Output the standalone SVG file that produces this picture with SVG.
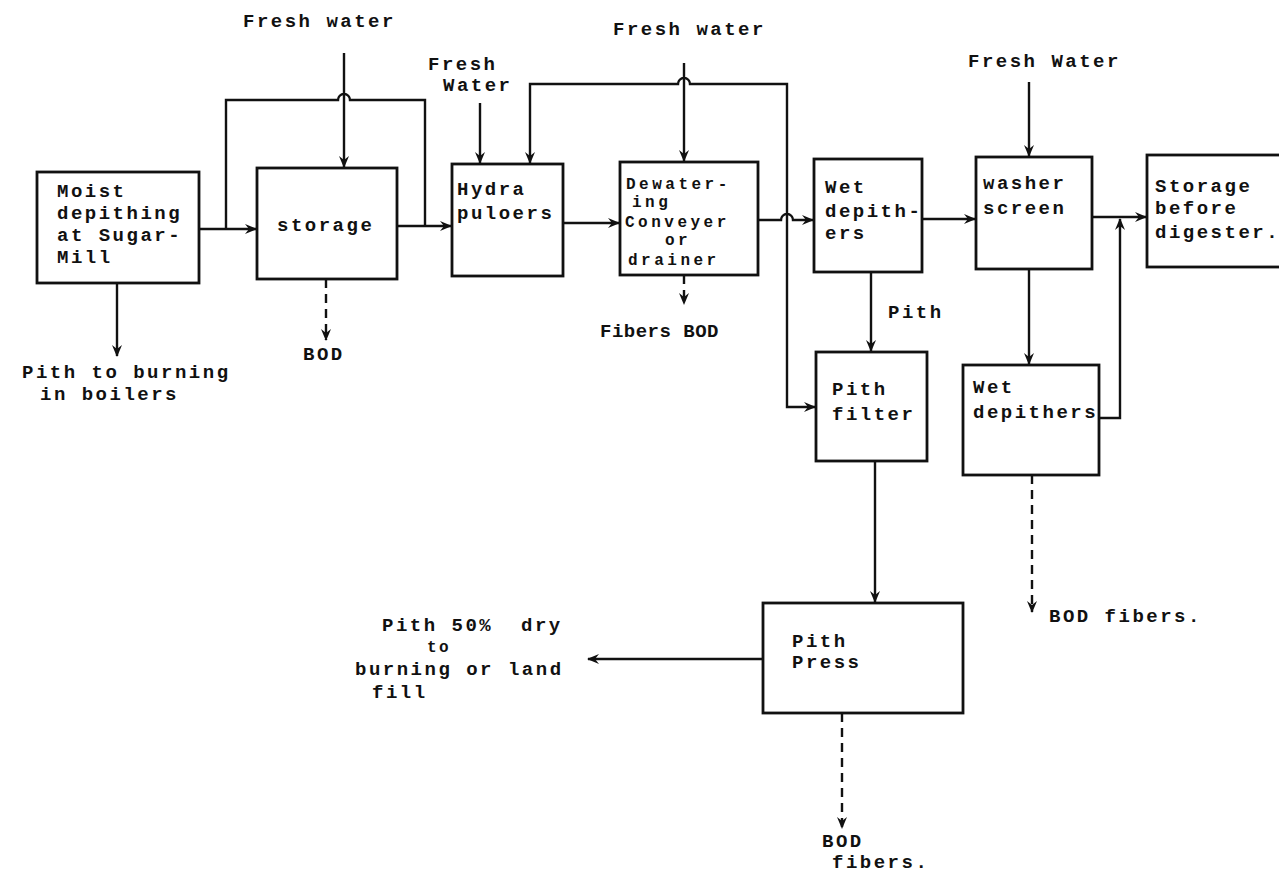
<svg xmlns="http://www.w3.org/2000/svg" width="1279" height="877" viewBox="0 0 1279 877">
<style>
.box{fill:none;stroke:#111;stroke-width:2.8}
.ln{fill:none;stroke:#111;stroke-width:2.4}
.dash{fill:none;stroke:#111;stroke-width:2.4;stroke-dasharray:9,6}
text{font-family:"Liberation Mono","DejaVu Sans Mono",monospace;font-weight:bold;font-size:19px;letter-spacing:2.5px;fill:#111}
.sm{font-size:16px}
.dw{font-size:16px;letter-spacing:3.5px}
</style>
<defs>
<marker id="ah" viewBox="0 0 12 10" refX="11" refY="5" markerWidth="12" markerHeight="10" markerUnits="userSpaceOnUse" orient="auto-start-reverse">
<path d="M0,0 L12,5 L0,10 L4,5 Z" fill="#111"/>
</marker>
</defs>
<rect width="1279" height="877" fill="#fff"/>

<g id="connectors">
<path class="ln" d="M199,229 H256" marker-end="url(#ah)"/>
<path class="ln" d="M226,229 V100 H338 a6,6 0 0 1 12,0 H425 V226"/>
<path class="ln" d="M397,226 H451" marker-end="url(#ah)"/>
<path class="ln" d="M344,53 V167" marker-end="url(#ah)"/>
<path class="ln" d="M480,103 V163" marker-end="url(#ah)"/>
<path class="ln" d="M563,223 H619" marker-end="url(#ah)"/>
<path class="ln" d="M684,63 V161" marker-end="url(#ah)"/>
<path class="ln" d="M530,163 V84 H678 a6,6 0 0 1 12,0 H787 V407 H815" marker-start="url(#ah)" marker-end="url(#ah)"/>
<path class="ln" d="M758,220 H781 a6,6 0 0 1 12,0 H813" marker-end="url(#ah)"/>
<path class="ln" d="M922,219 H975" marker-end="url(#ah)"/>
<path class="ln" d="M1092,217 H1146" marker-end="url(#ah)"/>
<path class="ln" d="M1099,418 H1120 V219" marker-end="url(#ah)"/>
<path class="ln" d="M1029,82 V156" marker-end="url(#ah)"/>
<path class="ln" d="M1029,269 V364" marker-end="url(#ah)"/>
<path class="ln" d="M871,272 V351" marker-end="url(#ah)"/>
<path class="ln" d="M875,461 V602" marker-end="url(#ah)"/>
<path class="ln" d="M763,659 H588" marker-end="url(#ah)"/>
<path class="ln" d="M117,283 V356" marker-end="url(#ah)"/>
<path class="dash" d="M326,279 V340" marker-end="url(#ah)"/>
<path class="dash" d="M684,275 V304" marker-end="url(#ah)"/>
<path class="dash" d="M1032,475 V612" marker-end="url(#ah)"/>
<path class="dash" d="M842,713 V828" marker-end="url(#ah)"/>
</g>

<g id="moist">
<rect class="box" x="37" y="172" width="162" height="111"/>
<text x="57" y="197">Moist</text>
<text x="57" y="219">depithing</text>
<text x="57" y="241">at Sugar-</text>
<text x="57" y="263">Mill</text>
</g>
<g id="storage">
<rect class="box" x="257" y="168" width="140" height="111"/>
<text x="277" y="231">storage</text>
</g>
<g id="hydra">
<rect class="box" x="452" y="164" width="111" height="112"/>
<text x="457" y="195">Hydra</text>
<text x="457" y="219">puloers</text>
</g>
<g id="dewatering">
<rect class="box" x="620" y="162" width="138" height="113"/>
<text class="dw" x="626" y="189">Dewater-</text>
<text class="dw" x="632" y="207">ing</text>
<text class="dw" x="625" y="227">Conveyer</text>
<text class="dw" x="665" y="245">or</text>
<text class="dw" x="628" y="265">drainer</text>
</g>
<g id="wetdepithers1">
<rect class="box" x="814" y="159" width="108" height="113"/>
<text x="825" y="193">Wet</text>
<text x="825" y="217">depith-</text>
<text x="825" y="239">ers</text>
</g>
<g id="washer">
<rect class="box" x="976" y="157" width="116" height="112"/>
<text x="983" y="189">washer</text>
<text x="983" y="214">screen</text>
</g>
<g id="storagebefore">
<rect class="box" x="1147" y="155" width="140" height="112"/>
<text x="1155" y="192">Storage</text>
<text x="1155" y="214">before</text>
<text x="1155" y="238">digester.</text>
</g>
<g id="pithfilter">
<rect class="box" x="816" y="352" width="111" height="109"/>
<text x="832" y="395">Pith</text>
<text x="832" y="420">filter</text>
</g>
<g id="wetdepithers2">
<rect class="box" x="963" y="365" width="136" height="110"/>
<text x="973" y="393">Wet</text>
<text x="973" y="418">depithers</text>
</g>
<g id="pithpress">
<rect class="box" x="763" y="603" width="200" height="110"/>
<text x="792" y="647">Pith</text>
<text x="792" y="668">Press</text>
</g>

<g id="labels">
<text x="243" y="27">Fresh water</text>
<text x="428" y="70">Fresh</text>
<text x="443" y="91">Water</text>
<text x="613" y="35">Fresh water</text>
<text x="968" y="67">Fresh Water</text>
<text x="888" y="318">Pith</text>
<text x="22" y="378">Pith to burning</text>
<text x="40" y="400">in boilers</text>
<text x="303" y="360">BOD</text>
<text x="600" y="337" style="letter-spacing:0.5px">Fibers BOD</text>
<text x="1049" y="622">BOD fibers.</text>
<text x="382" y="631" xml:space="preserve">Pith 50%  dry</text>
<text class="sm" x="427" y="652">to</text>
<text x="355" y="675">burning or land</text>
<text x="372" y="698">fill</text>
<text x="822" y="847">BOD</text>
<text x="832" y="868">fibers.</text>
</g>
</svg>
